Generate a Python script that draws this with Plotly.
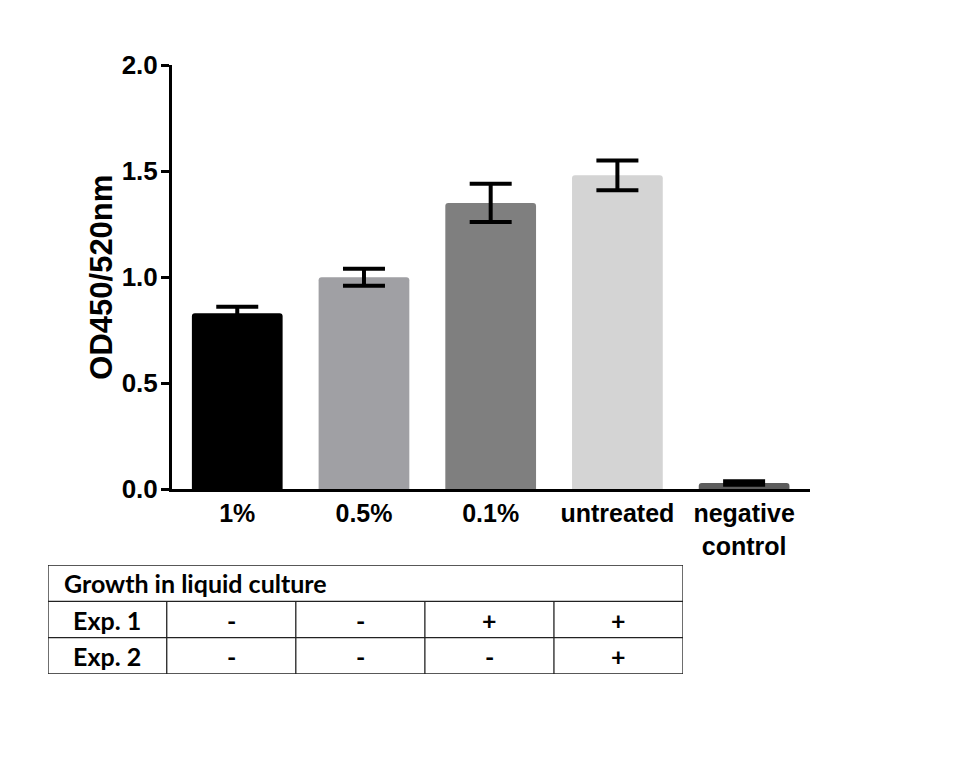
import plotly.graph_objects as go

# ---- data ----
categories = ["1%", "0.5%", "0.1%", "untreated", "negative<br>control"]
od_values = [0.83, 1.00, 1.35, 1.48, 0.03]
od_errors = [0.03, 0.04, 0.09, 0.07, 0.008]
bar_colors = ["#000000", "#a0a0a4", "#7f7f7f", "#d4d4d4", "#5c5c5c"]
y_ticks = [0.0, 0.5, 1.0, 1.5, 2.0]

table_header = "Growth in liquid culture"
table_rows = ["Exp. 1", "Exp. 2"]
table_values = [["-", "-", "+", "+"],
                ["-", "-", "-", "+"]]

W, H = 978, 762
# plot region in pixels
px_l, px_r, px_t, px_b = 172, 810, 65, 489.3
# table region in pixels
tb_l, tb_r, tb_t, tb_b = 48, 683, 565, 674

fig = go.Figure()
fig.add_trace(go.Bar(
    x=list(range(len(categories))), y=od_values,
    marker=dict(color=bar_colors, line=dict(width=0), cornerradius=3),
    width=0.716,
    error_y=dict(type="data", array=od_errors, visible=True,
                 color="#000000", thickness=4, width=21),
    showlegend=False,
))

label_w = 0.92
ncol = len(table_values[0])
tfont = dict(family="Lato", size=25, color="#000000", weight="bold")

# table texts
annotations = []
annotations.append(dict(x=-label_w + 0.11, y=0.5, xref="x2", yref="y2",
                        text=table_header, showarrow=False, xanchor="left",
                        font=tfont))
for r, name in enumerate(table_rows):
    annotations.append(dict(x=-label_w / 2, y=r + 1.5, xref="x2", yref="y2",
                            text=name, showarrow=False, font=tfont))
    for c, v in enumerate(table_values[r]):
        annotations.append(dict(x=c + 0.5, y=r + 1.5, xref="x2", yref="y2",
                                text=v, showarrow=False, font=tfont))

# table lines
line_style = dict(color="#222222", width=1.3)
shapes = []
shapes.append(dict(type="rect", xref="x2", yref="y2", x0=-label_w, x1=ncol,
                   y0=0, y1=len(table_rows) + 1, line=line_style))
for r in range(1, len(table_rows) + 1):
    shapes.append(dict(type="line", xref="x2", yref="y2", x0=-label_w, x1=ncol,
                       y0=r, y1=r, line=line_style))
for c in range(ncol):
    shapes.append(dict(type="line", xref="x2", yref="y2", x0=c, x1=c,
                       y0=1, y1=len(table_rows) + 1, line=line_style))

axfont = dict(family="Liberation Sans, Arial", size=25, weight="bold")

fig.update_layout(
    width=W, height=H, autosize=False,
    margin=dict(l=0, r=0, t=0, b=0, pad=0),
    paper_bgcolor="white", plot_bgcolor="white",
    font=dict(family="Arial", color="#000000"),
    xaxis=dict(
        domain=[px_l / W, px_r / W],
        range=[-0.515, 4.52], automargin=False,
        tickvals=list(range(len(categories))), ticktext=categories,
        tickfont=axfont,
        showline=True, linecolor="#000000", linewidth=3,
        ticks="", showgrid=False, zeroline=False, anchor="y",
    ),
    yaxis=dict(
        domain=[1 - px_b / H, 1 - px_t / H],
        range=[0, 2.0], automargin=False,
        tickvals=y_ticks, tickformat=".1f",
        tickfont=dict(family="Liberation Sans, Arial", size=26, weight="bold"),
        ticklabelstandoff=-2,
        showline=True, linecolor="#000000", linewidth=3,
        ticks="outside", ticklen=8, tickwidth=3, tickcolor="#000000",
        showgrid=False, zeroline=False, anchor="x",
        title=dict(text="OD450/520nm", standoff=0,
                   font=dict(family="Liberation Sans, Arial", size=31, weight="bold")),
    ),
    xaxis2=dict(domain=[tb_l / W, tb_r / W], range=[-label_w, ncol],
                visible=False, anchor="y2", automargin=False),
    yaxis2=dict(domain=[1 - tb_b / H, 1 - tb_t / H], range=[len(table_rows) + 1, 0],
                visible=False, anchor="x2", automargin=False),
    annotations=annotations,
    shapes=shapes,
)

fig.write_html("out.html", config={"displayModeBar": False},
               post_script="document.body.style.margin='0';")
